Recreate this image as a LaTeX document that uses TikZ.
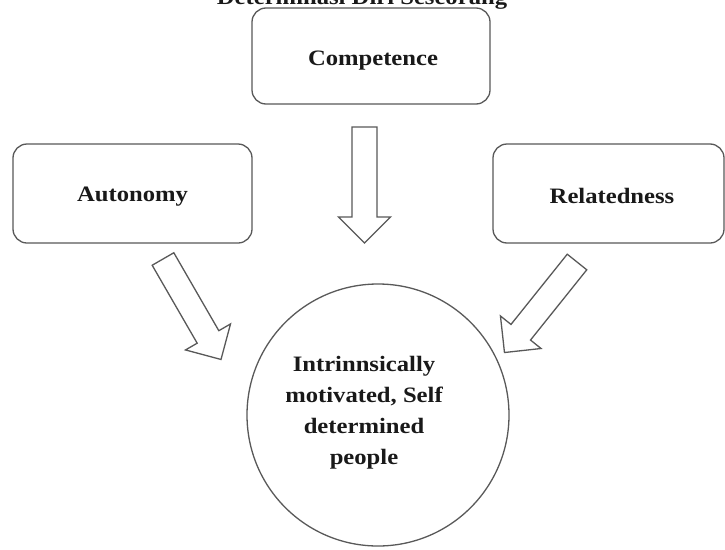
\documentclass[tikz,border=0pt]{standalone}
\usepackage{fontspec}
\setmainfont[FakeStretch=1.12]{Liberation Serif}
\newcommand\blockarrowat[2]{%
  \begin{scope}[shift={#1}, rotate=#2]
    \draw[blockarrow] (0,-12.5) -- (90,-12.5) -- (90,-26) -- (116,0) -- (90,26) -- (90,12.5) -- (0,12.5) -- cycle;
  \end{scope}}
\begin{document}
\begin{tikzpicture}[x=1pt,y=-1pt,
  lbl/.style={font=\fontsize{22}{31}\selectfont\bfseries, text=black!90},
  box/.style={draw=black!65, line width=1.3pt, rounded corners=14pt, fill=white},
  blockarrow/.style={draw=black!65, line width=1.3pt, fill=white, line join=miter}]
\useasboundingbox[fill=white] (0,0) rectangle (725,549);
\node[lbl, anchor=base] (title) at (362,4) {Determinasi Diri Seseorang};
\node[box, minimum width=238pt, minimum height=96pt] (comp) at (371,56) {};
\node[lbl] (comptext) at (373,61) {Competence};
\node[box, minimum width=239pt, minimum height=99pt] (auto) at (132.5,193.5) {};
\node[lbl] (autotext) at (132.5,197) {Autonomy};
\node[box, minimum width=231pt, minimum height=99pt] (rel) at (608.5,193.5) {};
\node[lbl] (reltext) at (612,196) {Relatedness};
\node[circle, draw=black!65, line width=1.3pt, minimum size=262pt] (goal) at (378,415) {};
\node[lbl, align=center] (goaltext) at (364,413) {Intrinnsically\\motivated, Self\\determined\\people};
\blockarrowat{(364.5,127)}{-90}
\blockarrowat{(163,259)}{-60}
\blockarrowat{(577,262)}{-128.7}
\end{tikzpicture}
\end{document}
